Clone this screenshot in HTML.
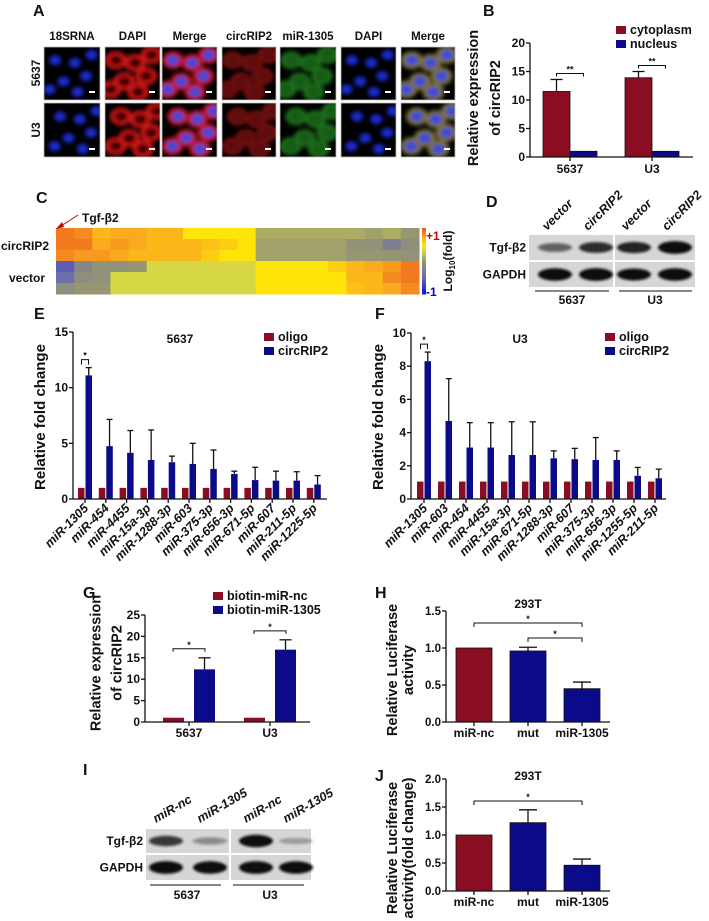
<!DOCTYPE html>
<html><head><meta charset="utf-8"><style>
html,body{margin:0;padding:0;background:#fff;}
svg{display:block;font-family:"Liberation Sans",Arial,sans-serif;}
text{font-weight:bold;fill:#111;}
</style></head><body>
<svg id="fig" width="709" height="921" viewBox="0 0 709 921" xmlns="http://www.w3.org/2000/svg">
<defs id="defs">
<filter id="b2" x="-50%" y="-50%" width="200%" height="200%"><feGaussianBlur stdDeviation="2.2"/></filter>
<filter id="b1" x="-50%" y="-50%" width="200%" height="200%"><feGaussianBlur stdDeviation="1.2"/></filter>
</defs>
<g id="root"></g>
</svg>
<script>
// ---------- DATA ----------
const bCats = ["5637","U3"];
const bCyto = [11.5, 13.9];
const bCytoErr = [13.6, 15.0];
const bNuc = [1, 1];
const bTicks = [0,5,10,15,20];

const eCats = ["miR-1305","miR-454","miR-4455","miR-15a-3p","miR-1288-3p","miR-603","miR-375-3p","miR-656-3p","miR-671-5p","miR-607","miR-211-5p","miR-1225-5p"];
const eOligo = [1,1,1,1,1,1,1,1,1,1,1,1];
const eCirc = [11.1,4.75,4.15,3.5,3.3,3.15,2.7,2.25,1.7,1.65,1.65,1.3];
const eCircErr = [11.8,7.15,6.15,6.2,3.85,5.0,4.4,2.5,2.85,2.5,2.45,2.1];
const eTicks = [0,5,10,15];

const fCats = ["miR-1305","miR-603","miR-454","miR-4455","miR-15a-3p","miR-671-5p","miR-1288-3p","miR-607","miR-375-3p","miR-656-3p","miR-1255-5p","miR-211-5p"];
const fOligo = [1.05,1.05,1.05,1.05,1.05,1.05,1.05,1.05,1.05,1.05,1.05,1.05];
const fCirc = [8.3,4.7,3.1,3.1,2.65,2.65,2.45,2.4,2.35,2.35,1.4,1.25];
const fCircErr = [8.85,7.25,4.6,4.6,4.65,4.65,2.9,3.05,3.7,2.9,1.9,1.8];
const fTicks = [0,2,4,6,8,10];

const gCats = ["5637","U3"];
const gNc = [1,1];
const gMir = [12.3,16.9];
const gMirErr = [15.0,19.2];
const gTicks = [0,5,10,15,20,25];

const hCats = ["miR-nc","mut","miR-1305"];
const hVals = [1.0,0.96,0.45];
const hErr = [1.0,1.01,0.54];
const hTicks = ["0.0","0.5","1.0","1.5"];

const jCats = ["miR-nc","mut","miR-1305"];
const jVals = [1.0,1.22,0.46];
const jErr = [1.0,1.45,0.57];
const jTicks = ["0.0","0.5","1.0","1.5","2.0"];

const heatRows = [
 [0.9,0.85,0.7,0.75,0.75,0.7,0.7,0.5,0.5,0.5,0.5,0.1,0.1,0.1,0.1,0.1,0.1,0.05,0.1,0.0],
 [0.9,0.9,0.75,0.8,0.75,0.7,0.7,0.7,0.65,0.6,0.5,0.05,0.05,0.05,0.05,0.05,-0.05,-0.05,-0.3,-0.1],
 [0.85,0.8,0.8,0.75,0.7,0.7,0.7,0.7,0.6,0.5,0.5,0.05,0.05,0.05,0.05,0.05,0.0,0.0,0.0,-0.05],
 [-0.6,-0.2,-0.05,-0.05,0.0,0.3,0.3,0.3,0.3,0.3,0.3,0.5,0.5,0.5,0.5,0.6,0.7,0.75,0.8,0.9],
 [-0.5,-0.1,-0.05,0.3,0.3,0.3,0.3,0.3,0.3,0.3,0.3,0.5,0.5,0.5,0.5,0.5,0.7,0.7,0.85,0.9],
 [-0.1,0.0,0.0,0.3,0.3,0.3,0.3,0.3,0.3,0.3,0.3,0.5,0.5,0.5,0.5,0.5,0.65,0.7,0.75,0.85]
];

const RED="#8a0d22", BLUE="#0b0b8a";
const NS="http://www.w3.org/2000/svg";
const root=document.getElementById('root');
const defs=document.getElementById('defs');
function mk(tag,attrs,parent){const e=document.createElementNS(NS,tag);for(const k in attrs)e.setAttribute(k,attrs[k]);(parent||root).appendChild(e);return e;}
function tx(str,x,y,size,attrs,parent){const a=Object.assign({x:x,y:y,'font-size':size},attrs||{});const e=mk('text',a,parent);e.textContent=str;return e;}
function line(x1,y1,x2,y2,w,parent){return mk('line',{x1:x1,y1:y1,x2:x2,y2:y2,stroke:'#111','stroke-width':w||1.3},parent);}

[["A",33,16],["B",483,16],["C",36,203],["D",486,207],["E",34,319],["F",375,319],["G",83,598],["H",375,598],["I",83,775],["J",375,781]].forEach(p=>{
 const t=tx(p[0],p[1],p[2],16,{});
 
 
});

// ---------- Panel A ----------
const aCols=[[44,100],[105,160],[162,217],[222,276],[280,336],[341,396],[401,455]];
const aHead=["18SRNA","DAPI","Merge","circRIP2","miR-1305","DAPI","Merge"];
const aRows=[[47,100],[103,157]];
const nucPos=[[0.2,0.25],[0.55,0.3],[0.75,0.55],[0.35,0.65],[0.6,0.85],[0.85,0.15],[0.1,0.8]];
aHead.forEach((h,i)=>{const t=tx(h,(aCols[i][0]+aCols[i][1])/2,40,11.5,{'text-anchor':'middle'});
 
 });
[["5637",73],["U3",130]].forEach(r=>{const t=tx(r[0],0,0,12,{'text-anchor':'middle',transform:`translate(40,${r[1]}) rotate(-90)`});
 
 });
let clipId=0;
aRows.forEach((r,ri)=>{aCols.forEach((c,ci)=>{
 const g=mk('g',{});
 
 
 const w=c[1]-c[0],h=r[1]-r[0];
 const cp=mk('clipPath',{id:'cp'+clipId},defs);
 mk('rect',{x:c[0],y:r[0],width:w,height:h},cp);
 mk('rect',{x:c[0],y:r[0],width:w,height:h,fill:'#000'},g);
 const inner=mk('g',{'clip-path':'url(#cp'+clipId+')'},g);clipId++;
 const cyt={1:'#c81414',2:'#b81414',3:'#6e0c0c',4:'#1a6a1a',6:'#7a7030'}[ci];
 const gg=mk('g',{filter:'url(#b2)'},inner);
 nucPos.forEach((p,k)=>{
   const cx=c[0]+p[0]*w+(ri*5%9), cy=r[0]+p[1]*h;
   if(cyt) mk('ellipse',{cx:cx,cy:cy,rx:11,ry:9,fill:cyt},gg);
 });
 nucPos.forEach((p,k)=>{
   const cx=c[0]+p[0]*w+(ri*5%9), cy=r[0]+p[1]*h;
   let nf;
   if(ci==0||ci==5) nf='#1a2ad0';
   else if(ci==2||ci==6) nf='#3a48d8';
   else if(ci==1) nf='#300505';
   else if(ci==3) nf='#5a0a0a';
   else nf='#145a14';
   mk('ellipse',{cx:cx,cy:cy,rx:6,ry:5,fill:nf},gg);
 });
 mk('rect',{x:c[0],y:r[0],width:w,height:h,fill:'none',stroke:'#bbb','stroke-width':0.8},g);
 mk('rect',{x:c[1]-11,y:r[1]-9,width:6,height:2,fill:'#fff'},g);
});});

// ---------- helpers ----------
function yAxis(x,y0,yTop,ticks,vmax,fs,parent){
 line(x,y0,x,yTop,1.3,parent);
 ticks.forEach(t=>{const v=parseFloat(t);const yy=y0-(v/vmax)*(y0-yTop);
  line(x-4,yy,x,yy,1.3,parent);
  const l=tx(String(t),x-5,yy+4,fs,{'text-anchor':'end'},parent);
  
  
 });
}
function yTitle(lines,cx,cy,fs,gap,parent){
 lines.forEach((s,i)=>{const xx=cx+(i-(lines.length-1)/2)*gap;
  const t=tx(s,0,0,fs,{'text-anchor':'middle',transform:`translate(${xx},${cy}) rotate(-90)`},parent);
  
  });
}
function errBar(cx,yv,ye,hw,parent){line(cx,yv,cx,ye,1.3,parent);line(cx-hw,ye,cx+hw,ye,1.3,parent);}
function bracket(x1,x2,y,star,parent,drop){drop=drop||4;
 mk('polyline',{points:`${x1},${y+drop} ${x1},${y} ${x2},${y} ${x2},${y+drop}`,fill:'none',stroke:'#111','stroke-width':1},parent);
 const s=tx(star,(x1+x2)/2,y-1,9,{'text-anchor':'middle'},parent);
 
 }
function legend(items,x,y,gap,fs,parent){items.forEach((it,i)=>{
 const g=mk('g',{},parent);
 
 
 mk('rect',{x:x,y:y+i*gap-7,width:10,height:8,fill:it[1]},g);
 tx(it[0],x+14,y+i*gap+1,fs,{},g);});}

// ---------- Panel B ----------
(function(){
 const g=mk('g',{});
 
 
 const x0=530,x1=693,y0=157,yT=43,vmax=20;
 const Y=v=>y0-v/vmax*(y0-yT);
 const centers=[570,652], bw=27;
 bCats.forEach((c,i)=>{
  const r=mk('rect',{x:centers[i]-bw,y:Y(bCyto[i]),width:bw,height:y0-Y(bCyto[i]),fill:RED,stroke:'#111','stroke-width':0.8},g);
  
  
  errBar(centers[i]-bw/2,Y(bCyto[i]),Y(bCytoErr[i]),6,g);
  const n=mk('rect',{x:centers[i],y:Y(bNuc[i]),width:bw,height:y0-Y(bNuc[i]),fill:BLUE,stroke:'#111','stroke-width':0.8},g);
  
  
  line(centers[i],y0,centers[i],y0+4,1.3,g);
  const l=tx(c,centers[i],173,12,{'text-anchor':'middle'},g);
  
  
  bracket(centers[i]-bw/2,centers[i]+bw/2,Y(bCytoErr[i])-6,'**',g,3);
 });
 line(x0,y0,x1,y0,1.3,g);
 yAxis(x0,y0,yT,bTicks,vmax,12,g);
 yTitle(["Relative expression","of circRIP2"],489,98,14.5,22,g);
 legend([["cytoplasm",RED],["nucleus",BLUE]],616,33,14,12.5,g);
})();

// ---------- Panel C heatmap ----------
(function(){
 const g=mk('g',{});
 
 
 const x0=56,x1=419,y0=228,y1=294;
 const stops=[[-1,[20,20,230]],[-0.5,[110,110,170]],[0,[150,150,115]],[0.3,[215,215,70]],[0.5,[255,228,10]],[0.75,[250,170,30]],[1,[238,90,30]]];
 function col(v){for(let i=0;i<stops.length-1;i++){const a=stops[i],b=stops[i+1];if(v<=b[0]){const t=(v-a[0])/(b[0]-a[0]);const c=a[1].map((q,k)=>Math.round(q+(b[1][k]-q)*t));return `rgb(${c})`;}}return 'rgb(238,90,30)';}
 const nr=heatRows.length,nc=heatRows[0].length,cw=(x1-x0)/nc,rh=(y1-y0)/nr;
 heatRows.forEach((row,ri)=>row.forEach((v,ci)=>{
  const r=mk('rect',{x:x0+ci*cw,y:y0+ri*rh,width:cw+0.5,height:rh+0.5,fill:col(v)},g);
  
  
 }));
 const cb=mk('g',{},g);
 
 
 for(let i=0;i<30;i++){const v=1-2*i/29;mk('rect',{x:422,y:y0+i*(y1-y0)/30,width:4,height:(y1-y0)/30+0.5,fill:col(v)},cb);}
 tx("+1",426,240,12,{},cb).setAttribute('style','fill:#c00');
 tx("-1",426,296,12,{},cb).setAttribute('style','fill:#00c');
 const lt=tx("Log",0,0,12,{'text-anchor':'middle',transform:'translate(452,261) rotate(-90)'},g);
 lt.innerHTML='Log<tspan font-size="8" dy="3">10</tspan><tspan dy="-3">(fold)</tspan>';
 
 
 const a=tx("circRIP2",1,250,12,{},g);
 const b=tx("vector",9,282,12,{},g);
 const tg=tx("Tgf-β2",82,222,12,{},g);
 mk('line',{x1:78,y1:215,x2:58,y2:228,stroke:'#b01010','stroke-width':1},g);
 mk('polygon',{points:'56,229 62,222 64,227',fill:'#b01010'},g);
})();

function blot(parent,x0,x1,rows,lanes,split,bandLabels){
 rows.forEach((r,ri)=>{
  const segs=[[x0,split-1],[split+1,x1]];
  segs.forEach(s=>mk('rect',{x:s[0],y:r[0],width:s[1]-s[0],height:r[1]-r[0],fill:'#d6d6d6'},parent));
  const gg=mk('g',{filter:'url(#b1)'},parent);
  lanes.forEach((ln,li)=>{const inten=r[2][li];if(inten<=0)return;
   mk('ellipse',{cx:ln,cy:(r[0]+r[1])/2,rx:17,ry:3+4*inten,fill:'#111','fill-opacity':Math.min(1,0.25+inten)},gg);});
  const t=tx(bandLabels[ri],x0-3,(r[0]+r[1])/2+4,12,{'text-anchor':'end'},parent);
  
  
 });
}
// ---------- Panel D ----------
(function(){
 const g=mk('g',{});
 
 
 const lanes=[555,596,634,675];
 blot(g,529,695,[[235,260,[0.35,0.6,0.65,0.85]],[262,287,[0.8,0.85,0.75,0.8]]],lanes,614,["Tgf-β2","GAPDH"]);
 ["vector","circRIP2","vector","circRIP2"].forEach((s,i)=>{
  const t=tx(s,0,0,12.5,{'font-style':'italic',transform:`translate(${lanes[i]-8},${231}) rotate(-45)`},g);
  
  });
 line(535,291,609,291,1,g);line(619,291,692,291,1,g);
 tx("5637",572,304,12,{'text-anchor':'middle'},g);
 tx("U3",655,304,12,{'text-anchor':'middle'},g);
})();

// ---------- Panels E / F ----------
function groupedChart(name,cfg,cats,oligo,circ,circErr,ticks){
 const g=mk('g',{});
 
 
 const {x0,x1,y0,yT,vmax,c0,sp}=cfg;
 const Y=v=>y0-v/vmax*(y0-yT);
 cats.forEach((c,i)=>{
  const cx=c0+i*sp;
  const r=mk('rect',{x:cx-7,y:Y(oligo[i]),width:6.5,height:y0-Y(oligo[i]),fill:RED},g);
  
  
  const b=mk('rect',{x:cx+0.5,y:Y(circ[i]),width:6.5,height:y0-Y(circ[i]),fill:BLUE},g);
  
  
  errBar(cx+3.75,Y(circ[i]),Y(circErr[i]),3,g);
  line(cx,y0,cx,y0+4,1.3,g);
  const l=tx(c,0,0,12.5,{'text-anchor':'end','font-style':'italic',transform:`translate(${cx+4},${y0+10}) rotate(-45)`},g);
  
  
 });
 line(x0,y0,x1,y0,1.3,g);
 yAxis(x0,y0,yT,ticks,vmax,12,g);
 bracket(c0-3.5,c0+3.5,Y(circErr[0])-8,'*',g,5);
 yTitle(["Relative fold change"],x0-28,417,15,0,g);
 return g;
}
const eg=groupedChart('chart-e',{x0:73,x1:327,y0:499,yT:332,vmax:15,c0:85,sp:20.8},eCats,eOligo,eCirc,eCircErr,eTicks);
tx("5637",180,343,12,{'text-anchor':'middle'},eg);
legend([["oligo",RED],["circRIP2",BLUE]],264,340,14,12.5,eg);
const fg=groupedChart('chart-f',{x0:411,x1:666,y0:499,yT:333,vmax:10,c0:424,sp:21},fCats,fOligo,fCirc,fCircErr,fTicks);
tx("U3",520,343,12,{'text-anchor':'middle'},fg);
legend([["oligo",RED],["circRIP2",BLUE]],605,340,14,12.5,fg);

// ---------- Panel G ----------
(function(){
 const g=mk('g',{});
 
 
 const x0=145,x1=310,y0=722,yT=615,vmax=25;
 const Y=v=>y0-v/vmax*(y0-yT);
 const centers=[189,270],bw=21;
 gCats.forEach((c,i)=>{
  const cx=centers[i];
  const r=mk('rect',{x:cx-26,y:Y(gNc[i]),width:bw,height:y0-Y(gNc[i]),fill:RED},g);
  
  
  const b=mk('rect',{x:cx+5,y:Y(gMir[i]),width:bw,height:y0-Y(gMir[i]),fill:BLUE},g);
  
  
  errBar(cx+5+bw/2,Y(gMir[i]),Y(gMirErr[i]),6,g);
  line(cx,y0,cx,y0+4,1.3,g);
  const l=tx(c,cx,737,12,{'text-anchor':'middle'},g);
  
  
  bracket(cx-16,cx+16,Y(gMirErr[i])-9,'*',g,3);
 });
 line(x0,y0,x1,y0,1.3,g);
 yAxis(x0,y0,yT,gTicks,vmax,12,g);
 yTitle(["Relative expression","of circRIP2"],111,663,14.5,21,g);
 legend([["biotin-miR-nc",RED],["biotin-miR-1305",BLUE]],213,599,14,12.5,g);
})();

// ---------- Panels H / J ----------
function triChart(name,cfg,cats,vals,err,ticks,titles,brks){
 const g=mk('g',{});
 
 
 const {x0,x1,y0,yT,vmax,ty,cy}=cfg;
 const Y=v=>y0-v/vmax*(y0-yT);
 const centers=[474,528,582],bw=36;
 cats.forEach((c,i)=>{
  const cx=centers[i];
  const r=mk('rect',{x:cx-bw/2,y:Y(vals[i]),width:bw,height:y0-Y(vals[i]),fill:i==0?RED:BLUE,stroke:'#111','stroke-width':0.8},g);
  
  
  if(err[i]>vals[i]) errBar(cx,Y(vals[i]),Y(err[i]),9,g);
  line(cx,y0,cx,y0+4,1.3,g);
  const l=tx(c,cx,y0+15,12,{'text-anchor':'middle'},g);
  
  
 });
 line(x0,y0,x1,y0,1.3,g);
 yAxis(x0,y0,yT,ticks,vmax,11.5,g);
 yTitle(titles,405,cy,14.5,16,g);
 tx("293T",528,ty,12,{'text-anchor':'middle'},g);
 brks.forEach(b=>bracket(centers[b[0]],centers[b[1]],b[2],'*',g,4));
 return g;
}
triChart('chart-h',{x0:446,x1:610,y0:722,yT:611,vmax:1.5,ty:608,cy:670},hCats,hVals,hErr,hTicks,["Relative Luciferase","activity"],[[0,2,623],[1,2,638]]);
triChart('chart-j',{x0:446,x1:610,y0:891,yT:779,vmax:2.0,ty:780,cy:848},jCats,jVals,jErr,jTicks,["Relative Luciferase","activity(fold change)"],[[0,2,801]]);

// ---------- Panel I ----------
(function(){
 const g=mk('g',{});
 
 
 const lanes=[166,210,256,296];
 blot(g,146,311,[[829,853,[0.55,0.15,0.8,0.03]],[855,880,[0.85,0.8,0.85,0.8]]],lanes,230,["Tgf-β2","GAPDH"]);
 ["miR-nc","miR-1305","miR-nc","miR-1305"].forEach((s,i)=>{
  const t=tx(s,0,0,12.5,{'font-style':'italic',transform:`translate(${lanes[i]-10},${823}) rotate(-30)`},g);
  
  });
 line(150,885,221,885,1,g);line(233,885,304,885,1,g);
 tx("5637",187,899,12,{'text-anchor':'middle'},g);
 tx("U3",270,899,12,{'text-anchor':'middle'},g);
})();
</script>
</body></html>
